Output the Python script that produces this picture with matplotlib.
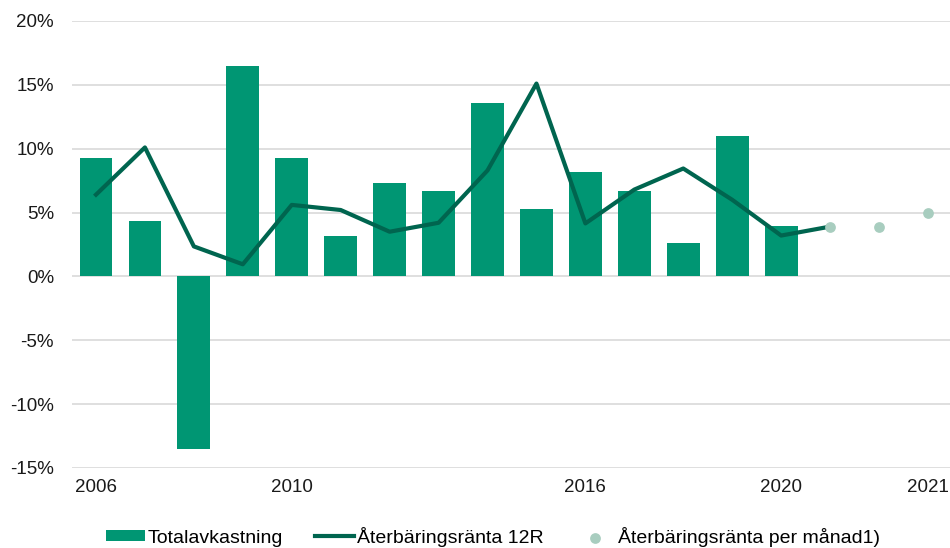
import numpy as np
import matplotlib.pyplot as plt

plt.rcParams['font.family'] = ['Liberation Sans', 'DejaVu Sans']

# categories (18 positions, only some labelled)
tick_labels = ['2006', '', '', '', '2010', '', '', '', '', '', '2016', '', '', '', '2020', '', '', '2021']
# Totalavkastning, 2006-2020 (%)
totalavkastning = [9.25, 4.35, -13.55, 16.5, 9.3, 3.15, 7.3, 6.7, 13.6, 5.25, 8.15, 6.7, 2.6, 11.0, 3.95]
# Återbäringsränta 12R, 2006-2021 (%)
ranta_12r = [6.4, 10.1, 2.35, 0.95, 5.6, 5.2, 3.5, 4.2, 8.3, 15.1, 4.15, 6.8, 8.45, 6.0, 3.2, 3.9]
# Återbäringsränta per månad (%)
manad_pos = [15, 16, 17]
manad_val = [3.9, 3.9, 4.95]

bar_col = '#009673'
line_col = '#00654F'
dot_col = '#A8CDBF'

fig = plt.figure(figsize=(9.5, 5.48), dpi=100)
ax = fig.add_axes([0.0758, 0.146, 0.9242, 0.8157])

x = np.arange(len(tick_labels))
bars = ax.bar(x[:len(totalavkastning)], totalavkastning, width=0.67, color=bar_col,
              label='Totalavkastning', zorder=2)
line, = ax.plot(x[:len(ranta_12r)], ranta_12r, color=line_col, linewidth=3,
                label='Återbäringsränta 12R', zorder=3)
dots = ax.scatter(manad_pos, manad_val, s=60, color=dot_col, linewidths=0,
                  label='Återbäringsränta per månad1)', zorder=4)

ax.set_ylim(-15, 20)
ax.set_xlim(-0.49, 17.45)
ax.set_yticks(range(-15, 21, 5))
ax.set_yticklabels([f'{v}%' for v in range(-15, 21, 5)], fontsize=13.5, color='#1a1a1a')
ax.set_xticks(x)
ax.set_xticklabels(tick_labels, fontsize=13.5, color='#1a1a1a')
ax.tick_params(length=0)
ax.tick_params(axis='y', pad=13)
ax.tick_params(axis='x', pad=8)
ax.yaxis.grid(True, color='#D9D9D9', linewidth=1.2, zorder=0)
ax.set_axisbelow(True)
for s in ax.spines.values():
    s.set_visible(False)

leg = ax.legend([bars, line, dots],
                ['Totalavkastning', 'Återbäringsränta 12R', 'Återbäringsränta per månad1)'],
                loc='lower center', bbox_to_anchor=(0.4795, -0.215), ncol=3, frameon=False,
                fontsize=14, handlelength=2.0, handleheight=0.5, handletextpad=0.15,
                columnspacing=1.65, markerscale=1.0)

fig.savefig('out.png', dpi=100)
